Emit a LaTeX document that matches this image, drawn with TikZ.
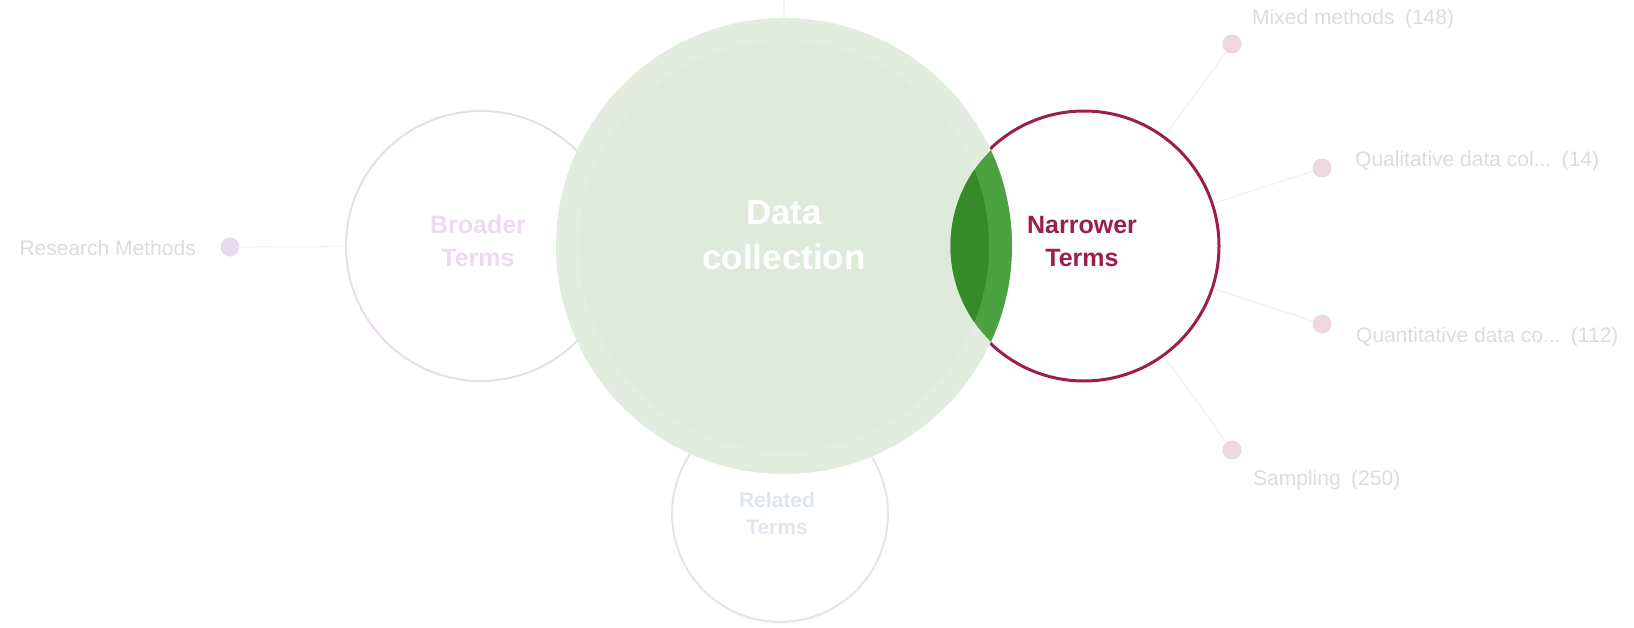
\documentclass[tikz,border=0pt]{standalone}
\usepackage{fontspec}
\setmainfont{Liberation Sans}
\usepackage{xcolor}
\usepackage{tikz}

\definecolor{ringgreen}{HTML}{E2EDE0}
\definecolor{coregreen}{HTML}{DEEADA}
\definecolor{lenslight}{HTML}{4CA142}
\definecolor{lensdark}{HTML}{368A27}
\definecolor{narrowred}{HTML}{9C1D4E}
\definecolor{broaderpink}{HTML}{EBDCED}
\definecolor{relatedblue}{HTML}{DFE6EE}
\definecolor{dotpink}{HTML}{EED8E0}
\definecolor{dotlilac}{HTML}{E6DBEF}
\definecolor{leafgray}{HTML}{DCDCDC}
\definecolor{linkgray}{HTML}{F2F2F2}

\begin{document}
\begin{tikzpicture}[x=1pt,y=-1pt,
term/.style={circle,inner sep=0pt,minimum size=270pt,line width=2pt},
dot/.style={circle,inner sep=0pt,minimum size=19pt,fill=dotpink},
leaf/.style={inner sep=0pt,text=leafgray,font=\fontsize{21}{25}\selectfont},
link/.style={draw=linkgray,line width=1.3pt}]
\useasboundingbox(0,0)rectangle(1634,627);
% dots
\node[dot,fill=dotlilac](rmdot)at(230,247){};
\node[dot](mixdot)at(1232,44){};
\node[dot](qualdot)at(1322,168){};
\node[dot](quantdot)at(1322,324){};
\node[dot](sampdot)at(1232,450){};
\coordinate(up)at(784,0);
% outer term circles
\node[term,draw=broaderpink](broader)at(481,246){};
\node[term,draw=relatedblue,minimum size=216pt](related)at(780,514){};
\node[term,draw=narrowred,fill=white,line width=3pt](narrower)at(1084,246){};
\draw[link](rmdot)--(broader);
\draw[link](narrower)--(mixdot);
\draw[link](narrower)--(qualdot);
\draw[link](narrower)--(quantdot);
\draw[link](narrower)--(sampdot);
\draw[link](up)--(784,20);
% main circle
\node[circle,inner sep=0pt,outer sep=0pt,minimum size=456pt,fill=ringgreen](data)at(784,246){};
\fill[coregreen](data.center)circle(205pt);
\begin{scope}
\clip(narrower.center)circle(133.5pt);
\fill[lenslight](data.center)circle(228pt);
\fill[lensdark](data.center)circle(205pt);
\end{scope}
% texts
\node[text=white,align=center,font=\bfseries\fontsize{35}{45}\selectfont](datatext)at(784,235){Data\\collection};
\node[text=narrowred,align=center,font=\bfseries\fontsize{25}{33}\selectfont](narrowtext)at(1082,241.5){Narrower\\Terms};
\node[text=broaderpink,align=center,font=\bfseries\fontsize{25}{33}\selectfont](broadtext)at(478,241.5){Broader\\Terms};
\node[text=relatedblue,align=center,font=\bfseries\fontsize{21}{27}\selectfont](reltext)at(777,513){Related\\Terms};
\node[leaf,anchor=east](rmtext)at(196,248){Research Methods};
\node[leaf,anchor=west](mixtext)at(1252,19.5){Mixed methods\hspace{0.5em}(148)};
\node[leaf,anchor=west](qualtext)at(1355,161.5){Qualitative data col...\hspace{0.5em}(14)};
\node[leaf,anchor=west](quanttext)at(1356,337.5){Quantitative data co...\hspace{0.5em}(112)};
\node[leaf,anchor=west](samptext)at(1253,480.5){Sampling\hspace{0.5em}(250)};
\end{tikzpicture}
\end{document}
